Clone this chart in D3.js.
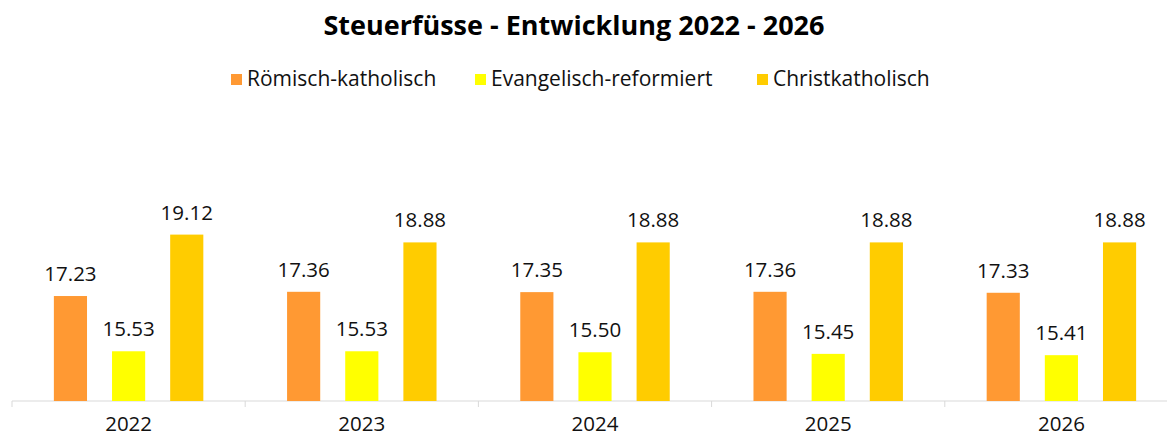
<!DOCTYPE html>
<html lang="de">
<head>
    <meta charset="UTF-8">
    <title>Steuerfüsse</title>
    <style>
        body{ margin: 0; background: #fff; }
        svg{ display: block; font-family: "Open Sans", "Noto Sans", sans-serif; }
    </style>
    <script src="https://d3js.org/d3.v7.min.js"></script>
</head>
<body>
    <div id="svg"></div>
    <script>
        const years = ["2022", "2023", "2024", "2025", "2026"]
        const seriesNames = ["Römisch-katholisch", "Evangelisch-reformiert", "Christkatholisch"]
        const roemKath = [17.23, 17.36, 17.35, 17.36, 17.33]
        const evangRef = [15.53, 15.53, 15.50, 15.45, 15.41]
        const christKath = [19.12, 18.88, 18.88, 18.88, 18.88]
        const colors = ["#ff9933", "#ffff00", "#ffcc00"]

        const values = [roemKath, evangRef, christKath]
        const data = []
        years.forEach((y, i) => {
            seriesNames.forEach((s, j) => data.push({ year: y, series: s, value: values[j][i] }))
        })

        const width = 1167, height = 437
        const svg = d3.select('#svg').append('svg').attr("width", width).attr("height", height)

        const xScale = d3.scaleBand().domain(years).range([12, 1178]).padding(0)
        const xInner = d3.scaleBand().domain(seriesNames).range([0, xScale.bandwidth()])
            .paddingInner(0.43).paddingOuter(0.72)
        const yScale = d3.scaleLinear().domain([14, 20]).range([401, 206])
        const color = d3.scaleOrdinal().domain(seriesNames).range(colors)

        // title
        svg.append("text")
            .attr("x", 574).attr("y", 35)
            .attr("text-anchor", "middle")
            .attr("font-size", 27).attr("font-weight", "bold")
            .text("Steuerfüsse - Entwicklung 2022 - 2026")

        // legend
        const legendX = [231, 475, 757]
        const legend = svg.append("g").selectAll("g").data(seriesNames).enter().append("g")
            .attr("transform", (d, i) => `translate(${legendX[i]}, 0)`)
        legend.append("rect").attr("y", 74).attr("width", 11).attr("height", 11).attr("fill", d => color(d))
        legend.append("text").attr("x", 16).attr("y", 86).attr("font-size", 21).attr("fill", "#111").text(d => d)

        // axis
        const xAxis = d3.axisBottom(xScale).tickSize(0).tickPadding(15)
        const axisG = svg.append("g").attr("transform", `translate(0, 401)`).call(xAxis)
        axisG.select(".domain").attr("stroke", "#d9d9d9").attr("d", "M12,0H1178")
        axisG.selectAll("text").attr("font-size", 20.5).attr("fill", "#111").attr("font-family", "Open Sans")
        axisG.selectAll(".sep").data(years.concat(["end"])).enter().append("line")
            .attr("x1", (d, i) => 12 + i * xScale.step()).attr("x2", (d, i) => 12 + i * xScale.step())
            .attr("y1", 0).attr("y2", 6).attr("stroke", "#d9d9d9")

        // bars
        const g = svg.append("g")
        g.selectAll(".bar").data(data).enter().append("rect")
            .attr("class", "bar")
            .attr("x", d => xScale(d.year) + xInner(d.series))
            .attr("width", xInner.bandwidth())
            .attr("y", d => yScale(d.value))
            .attr("height", d => yScale(14) - yScale(d.value))
            .attr("fill", d => color(d.series))

        g.selectAll(".lbl").data(data).enter().append("text")
            .attr("class", "lbl")
            .attr("x", d => xScale(d.year) + xInner(d.series) + xInner.bandwidth() / 2)
            .attr("y", d => yScale(d.value) - 15)
            .attr("text-anchor", "middle")
            .attr("font-size", 20.5).attr("fill", "#111")
            .text(d => d.value.toFixed(2))
    </script>
</body>
</html>
